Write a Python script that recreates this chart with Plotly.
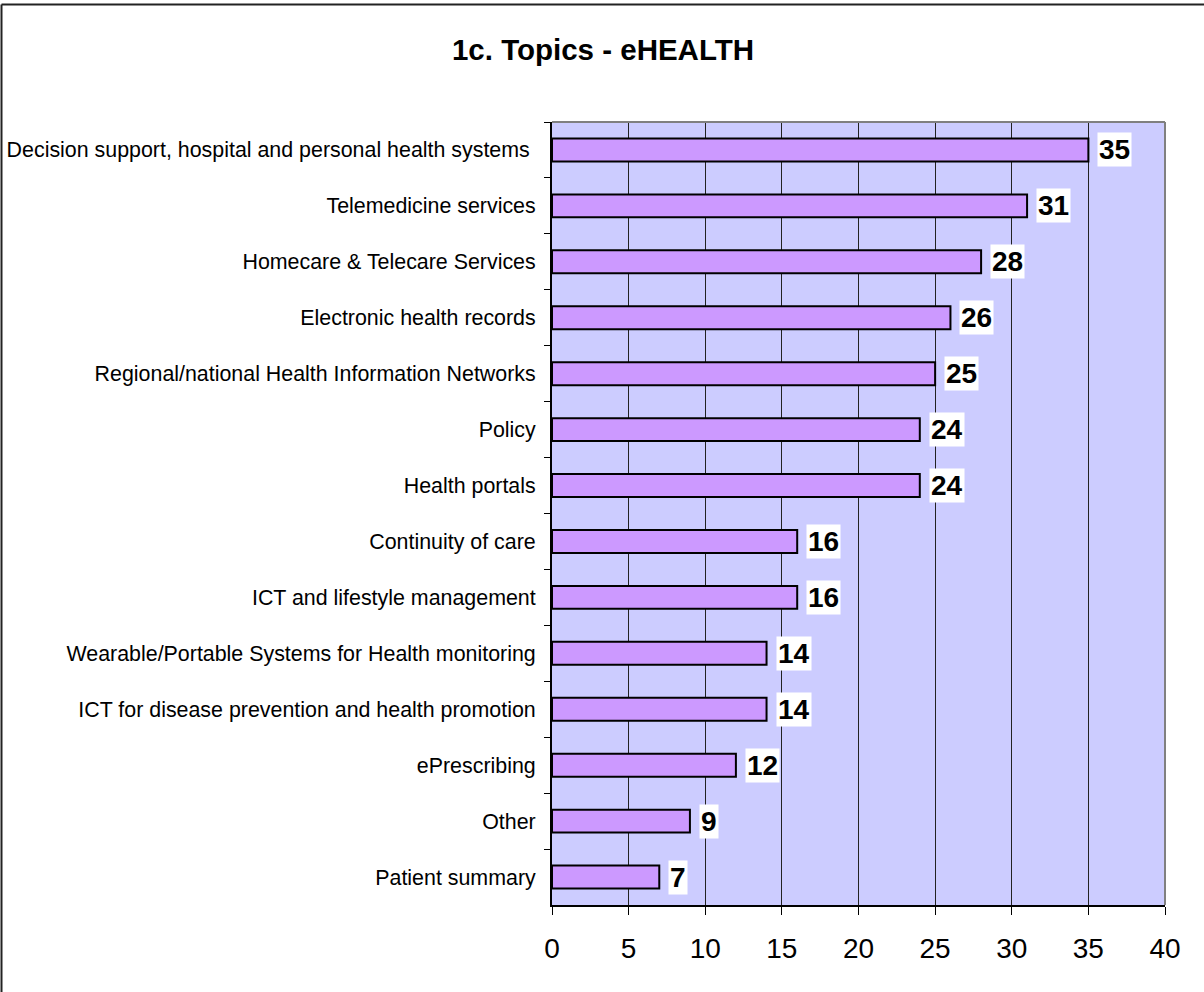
import plotly.graph_objects as go

categories = [
    "Decision support, hospital and personal health systems\u00a0",
    "Telemedicine services",
    "Homecare & Telecare Services",
    "Electronic health records",
    "Regional/national Health Information Networks",
    "Policy",
    "Health portals",
    "Continuity of care",
    "ICT and lifestyle management",
    "Wearable/Portable Systems for Health monitoring",
    "ICT for disease prevention and health promotion",
    "ePrescribing",
    "Other",
    "Patient summary",
]
values = [35, 31, 28, 26, 25, 24, 24, 16, 16, 14, 14, 12, 9, 7]
x_ticks = [0, 5, 10, 15, 20, 25, 30, 35, 40]

FONT = "Liberation Sans, Arial, sans-serif"

fig = go.Figure()
fig.add_trace(go.Bar(
    x=values, y=categories, orientation="h",
    width=0.41,
    marker=dict(color="#CC99FF", line=dict(color="#000000", width=2)),
    hoverinfo="x+y",
))

for c, v in zip(categories, values):
    fig.add_annotation(
        x=v, y=c, xref="x", yref="y",
        text="<b>%d</b>" % v, showarrow=False,
        xanchor="left", yanchor="middle", xshift=9,
        font=dict(family=FONT, size=28, color="#000000"),
        bgcolor="#FFFFFF", borderpad=1,
    )

W, H = 1204, 992
ml, mr, mt, mb = 552, 39, 122, 87
pw = W - ml - mr
ph = H - mt - mb

fig.update_layout(
    width=W, height=H,
    margin=dict(l=ml, r=mr, t=mt, b=mb, autoexpand=False),
    paper_bgcolor="#FFFFFF",
    plot_bgcolor="#CCCCFF",
    showlegend=False,
    bargap=0.59,
    font=dict(family=FONT, color="#000000"),
    title=dict(
        text="<b>1c. Topics - eHEALTH</b>",
        x=603 / W, xref="container", xanchor="center",
        y=1 - 50 / H, yref="container", yanchor="middle",
        font=dict(family=FONT, size=29.5, color="#000000"),
    ),
    xaxis=dict(
        range=[0, 40], tickvals=x_ticks, ticktext=[str(t) for t in x_ticks],
        showgrid=True, gridcolor="#222222", gridwidth=1,
        showline=True, linecolor="#000000", linewidth=2,
        ticks="outside", ticklen=8, tickcolor="#000000", tickwidth=1,
        tickfont=dict(family=FONT, size=28, color="#000000"),
        ticklabelstandoff=9,
        zeroline=False, mirror=False,
    ),
    yaxis=dict(
        autorange="reversed", type="category",
        showgrid=False,
        showline=True, linecolor="#000000", linewidth=2,
        ticks="outside", ticklen=6, tickcolor="#000000", tickwidth=1,
        tickson="boundaries",
        tickfont=dict(family=FONT, size=21.4, color="#000000"),
        ticklabelstandoff=10,
    ),
)

# plot-area border (top and right gray)
fig.add_shape(type="line", xref="paper", yref="paper", x0=0, x1=1, y0=1, y1=1,
              line=dict(color="#808080", width=2))
fig.add_shape(type="line", xref="paper", yref="paper", x0=1, x1=1, y0=0, y1=1,
              line=dict(color="#808080", width=2))

# outer chart border (left and top visible)
bx = (1.5 - ml) / pw
by = 1 + (mt - 4.5) / ph
fig.add_shape(type="line", xref="paper", yref="paper",
              x0=bx, x1=bx, y0=-(mb + 5) / ph, y1=by,
              line=dict(color="#222222", width=2), layer="below")
fig.add_shape(type="line", xref="paper", yref="paper",
              x0=bx, x1=1 + (mr + 5) / pw, y0=by, y1=by,
              line=dict(color="#222222", width=2), layer="below")

fig.write_html("out.html", config={"displayModeBar": False},
               post_script="document.body.style.margin='0';")
